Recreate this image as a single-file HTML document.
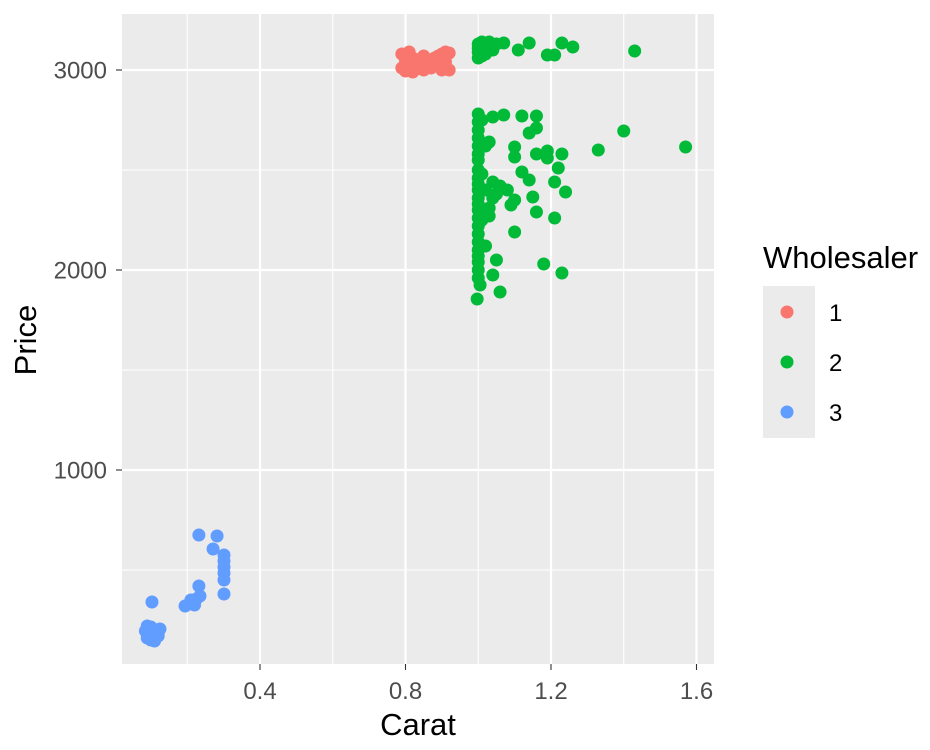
<!DOCTYPE html>
<html><head><meta charset="utf-8"><style>
body{margin:0;background:#fff;}
svg{display:block;font-family:"Liberation Sans",sans-serif;}
</style></head><body>
<svg id="chart" width="930" height="750">
<rect x="122" y="14" width="592" height="650" fill="#ebebeb"/>
<g id="grid"></g><g id="pts"></g><g id="axes"></g>
<text x="36" y="340" transform="rotate(-90 36 340)" text-anchor="middle" font-size="31" fill="#000">Price</text>
<text x="418" y="735" text-anchor="middle" font-size="31" fill="#000">Carat</text>
<g>
<text x="763" y="268" font-size="31" fill="#000">Wholesaler</text>
<rect x="763" y="286" width="52" height="152" fill="#ebebeb"/>
<g id="leg"></g>
</g>
</svg>
<script>
const xTicks=[0.4,0.8,1.2,1.6];
const xMinor=[0.2,0.6,1.0,1.4];
const yTicks=[1000,2000,3000];
const yMinor=[500,1500,2500];
const groups=["1","2","3"];
const colors=["#F8766D","#00BA38","#619CFF"];
const carat1=[0.79,0.79,0.80,0.80,0.81,0.81,0.82,0.82,0.83,0.84,0.85,0.86,0.87,0.88,0.89,0.90,0.90,0.91,0.92,0.92,0.80,0.83,0.86,0.88,0.91,0.85,0.81,0.89];
const price1=[3080,3010,3050,2995,3090,3020,3060,2990,3030,3045,3000,3020,3010,3040,3070,3080,3000,3090,3085,3000,3035,3005,3015,3060,3040,3070,3000,3020];
const carat2=[1.0,1.0,1.0,1.0,1.0,1.0,1.0,1.0,1.0,1.0,1.0,1.0,1.0,1.0,1.0,1.0,1.0,1.0,1.0,1.0,1.0,1.0,1.0,1.01,1.01,1.01,1.02,1.02,1.02,1.03,1.03,1.04,1.04,1.04,1.07,1.12,1.14,1.16,1.16,1.10,1.10,1.10,1.12,1.14,1.16,1.19,1.19,1.23,1.22,1.21,1.24,1.15,1.16,1.21,1.10,1.09,1.18,1.23,1.06,1.04,1.005,0.997,1.05,1.06,1.08,1.03,1.05,1.40,1.57,1.33,1.0,1.0,1.0,1.01,1.02,1.03,1.04,1.05,1.07,1.11,1.14,1.19,1.21,1.23,1.26,1.43,1.01,1.03,1.0];
const price2=[2780,2740,2700,2660,2620,2580,2550,2500,2460,2430,2400,2360,2330,2300,2260,2220,2180,2140,2100,2070,2040,2000,1960,2750,2480,2250,2620,2400,2120,2640,2310,2765,2440,2360,2775,2770,2685,2770,2710,2615,2565,2190,2490,2450,2580,2595,2560,2580,2510,2440,2390,2365,2290,2260,2350,2325,2030,1985,1890,1975,1925,1855,2380,2420,2400,2270,2050,2695,2615,2600,3130,3090,3110,3140,3080,3120,3100,3130,3135,3100,3135,3075,3075,3135,3115,3095,3070,3140,3060];
const carat3=[0.232,0.282,0.271,0.301,0.301,0.301,0.301,0.301,0.301,0.232,0.194,0.205,0.215,0.225,0.235,0.21,0.22,0.103,0.09,0.10,0.11,0.12,0.09,0.10,0.11,0.12,0.125,0.085];
const price3=[675,670,605,575,545,515,485,450,380,420,320,330,340,355,370,350,325,340,220,215,200,180,160,150,145,170,205,195];

const svg=document.getElementById('chart');
const NS="http://www.w3.org/2000/svg";
const X=v=>114.5+v*363.75, Y=v=>670-v*0.2;
function mk(tag,attrs,parent){const e=document.createElementNS(NS,tag);for(const k in attrs)e.setAttribute(k,attrs[k]);parent.appendChild(e);return e;}
const grid=document.getElementById('grid'),axes=document.getElementById('axes'),pts=document.getElementById('pts'),leg=document.getElementById('leg');
xMinor.forEach(v=>{const l=mk('line',{x1:X(v),x2:X(v),y1:14,y2:664,stroke:'#fff','stroke-width':1.1},grid);

});
yMinor.forEach(v=>{const l=mk('line',{x1:122,x2:714,y1:Y(v),y2:Y(v),stroke:'#fff','stroke-width':1.1},grid);

});
xTicks.forEach(v=>{const l=mk('line',{x1:X(v),x2:X(v),y1:14,y2:664,stroke:'#fff','stroke-width':2.2},grid);


const t=mk('line',{x1:X(v),x2:X(v),y1:664,y2:670,stroke:'#333','stroke-width':1.1},axes);


const tx=mk('text',{x:X(v),y:699,'text-anchor':'middle','font-size':24,fill:'#4d4d4d'},axes);tx.textContent=v.toFixed(1);

});
yTicks.forEach(v=>{const l=mk('line',{x1:122,x2:714,y1:Y(v),y2:Y(v),stroke:'#fff','stroke-width':2.2},grid);


const t=mk('line',{x1:116,x2:122,y1:Y(v),y2:Y(v),stroke:'#333','stroke-width':1.1},axes);


const tx=mk('text',{x:107,y:Y(v)+8.5,'text-anchor':'end','font-size':24,fill:'#4d4d4d'},axes);tx.textContent=v;

});
const series=[[carat1,price1],[carat2,price2],[carat3,price3]];
series.forEach((s,g)=>{s[0].forEach((c,i)=>{const p=mk('circle',{cx:X(c),cy:Y(s[1][i]),r:6.5,fill:colors[g]},pts);

});});
groups.forEach((g,i)=>{const c=mk('circle',{cx:787,cy:312+i*50,r:6.5,fill:colors[i]},leg);


const t=mk('text',{x:829,y:321+i*50,'font-size':24,fill:'#000'},leg);t.textContent=g;

});
</script>
</body></html>
